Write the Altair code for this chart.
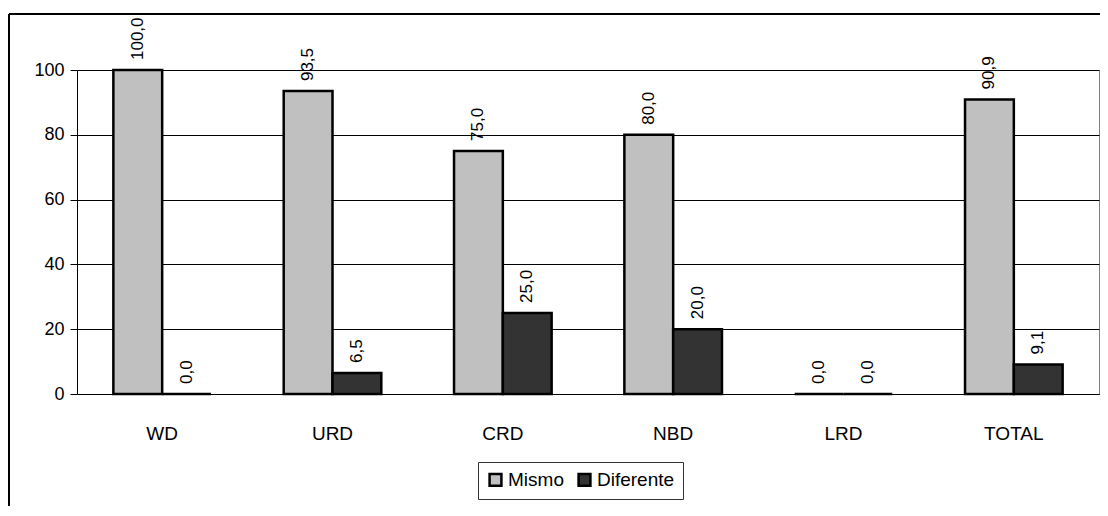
import altair as alt
import pandas as pd

categories = ["WD", "URD", "CRD", "NBD", "LRD", "TOTAL"]
mismo = [100.0, 93.5, 75.0, 80.0, 0.0, 90.9]
diferente = [0.0, 6.5, 25.0, 20.0, 0.0, 9.1]
series = ["Mismo", "Diferente"]
colors = ["#C0C0C0", "#333333"]

rows = []
for c, m, d in zip(categories, mismo, diferente):
    rows.append({"cat": c, "serie": "Mismo", "val": m, "lab": f"{m:.1f}".replace(".", ",")})
    rows.append({"cat": c, "serie": "Diferente", "val": d, "lab": f"{d:.1f}".replace(".", ",")})
df = pd.DataFrame(rows)

FONT = "Liberation Sans"
W, H = 1022, 324

x = alt.X("cat:N", sort=categories, title=None,
          scale=alt.Scale(paddingInner=0.427, paddingOuter=0.2135),
          axis=alt.Axis(labelAngle=0, labelFontSize=19, labelPadding=30, ticks=False,
                        domainColor="black", labelColor="black", labelFont=FONT))
xo = alt.XOffset("serie:N", sort=series)
y = alt.Y("val:Q", title=None,
          scale=alt.Scale(domain=[0, 100], nice=False),
          axis=alt.Axis(values=[0, 20, 40, 60, 80, 100], labelFontSize=18, labelFont=FONT,
                        labelColor="black", tickColor="black", tickSize=7, domainColor="black",
                        gridColor="black", gridWidth=1, labelPadding=6))

bars = alt.Chart(df).mark_bar(stroke="black", strokeWidth=2.5).encode(
    x=x, xOffset=xo, y=y,
    color=alt.Color("serie:N", sort=series, scale=alt.Scale(domain=series, range=colors),
                    legend=alt.Legend(title=None, orient="none", legendX=401, legendY=392,
                                      direction="horizontal", symbolType="square",
                                      symbolSize=140, symbolStrokeColor="black",
                                      symbolStrokeWidth=2.5, labelFontSize=19, labelFont=FONT,
                                      labelColor="black", strokeColor="#333333",
                                      padding=8, columnPadding=9, labelOffset=3))
)

labels = alt.Chart(df).mark_text(angle=270, align="left", baseline="middle", dx=10,
                                 fontSize=17, font=FONT, color="black").encode(
    x=x, xOffset=xo, y=y, text="lab:N"
)

border = alt.Chart(df).mark_rect(fill=None, stroke="black", strokeWidth=1).encode(
    x=alt.value(-68), x2=alt.value(W + 30), y=alt.value(-56), y2=alt.value(440)
)

chart = alt.layer(bars, labels, border).properties(
    width=W, height=H,
    autosize=alt.AutoSizeParams(type="none"),
    padding={"left": 69, "top": 62, "right": 1, "bottom": 112},
    background="white",
).configure_view(stroke="#808080", strokeWidth=1).configure_axis(grid=True).configure_axisX(grid=False)

chart.save("out.html", embed_options={"renderer": "svg", "actions": False})
